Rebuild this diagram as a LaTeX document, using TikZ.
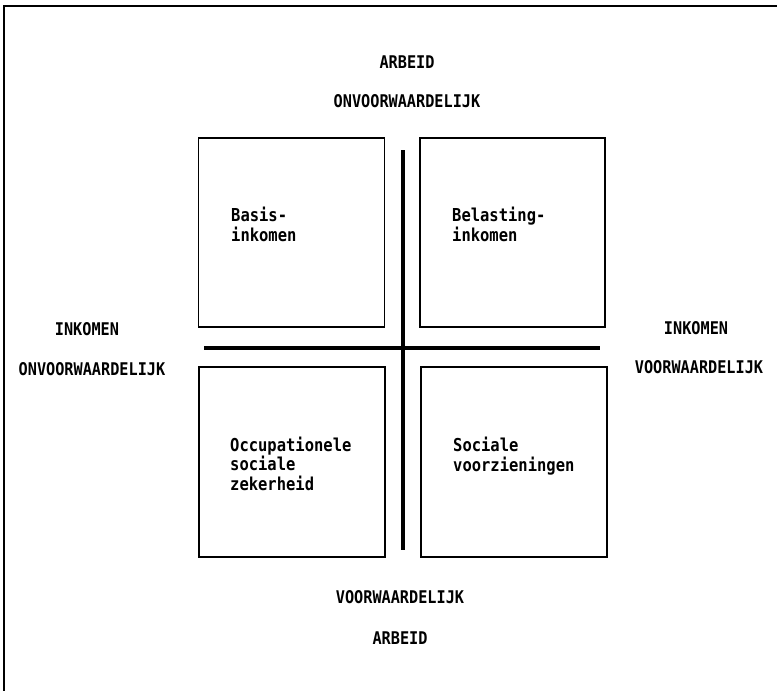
\documentclass[tikz,border=0pt]{standalone}
\usepackage{fontspec}
\newfontfamily\diagfont{DejaVu Sans Mono Bold}[FakeStretch=0.87]
\begin{document}
\begin{tikzpicture}[x=1pt,y=-1pt,
  quad/.style={draw, line width=1.6pt, inner sep=0pt},
  axis/.style={line width=4pt},
  frameline/.style={line width=1.8pt},
  axislabel/.style={font=\diagfont\fontsize{17.5}{19.5}\selectfont, inner sep=0pt},
  boxtext/.style={font=\diagfont\fontsize{17.8}{19.5}\selectfont, align=left, inner sep=0pt, anchor=base west}
]
\useasboundingbox (0,0) rectangle (777,691);
% frame (top and left edges only)
\coordinate (fTL) at (4,6);
\coordinate (fTR) at (777,6);
\coordinate (fBL) at (4,691);
\draw[frameline] (fTR) -- (fTL) -- (fBL);

% quadrant boxes
\node[quad, minimum width=186pt, minimum height=189pt] (q1) at (291.5,232.5) {};
\node[quad, minimum width=185pt, minimum height=189pt] (q2) at (512.5,232.5) {};
\node[quad, minimum width=186pt, minimum height=190pt] (q3) at (292,462) {};
\node[quad, minimum width=186pt, minimum height=190pt] (q4) at (514,462) {};

% axes
\coordinate (vTop) at (403,150);
\coordinate (vBot) at (403,550);
\coordinate (hL) at (204,348);
\coordinate (hR) at (600,348);
\draw[axis] (vTop) -- (vBot);
\draw[axis] (hL) -- (hR);

% box texts (anchor = baseline of last line)
\node[boxtext] (t1) at (231,241) {Basis-\\inkomen};
\node[boxtext] (t2) at (452,241) {Belasting-\\inkomen};
\node[boxtext] (t3) at (230,490) {Occupationele\\sociale\\zekerheid};
\node[boxtext] (t4) at (453,471) {Sociale\\voorzieningen};

% axis labels
\node[axislabel] (a1) at (407,62) {ARBEID};
\node[axislabel] (a2) at (407,101) {ONVOORWAARDELIJK};
\node[axislabel] (a3) at (400,597) {VOORWAARDELIJK};
\node[axislabel] (a4) at (400,638) {ARBEID};
\node[axislabel] (l1) at (87,329) {INKOMEN};
\node[axislabel] (l2) at (92,369) {ONVOORWAARDELIJK};
\node[axislabel] (r1) at (696,328) {INKOMEN};
\node[axislabel] (r2) at (699,367) {VOORWAARDELIJK};
\end{tikzpicture}
\end{document}
